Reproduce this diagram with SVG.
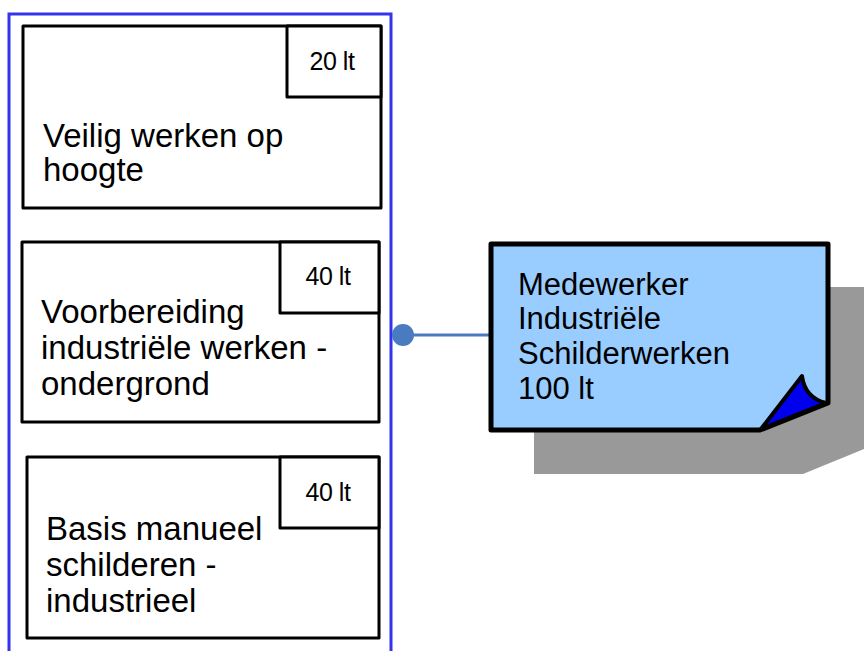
<svg xmlns="http://www.w3.org/2000/svg" width="864" height="651" viewBox="0 0 864 651">
<style>
.box{fill:#fff;stroke:#000;stroke-width:3;stroke-linejoin:round}
.t{font-family:"Liberation Sans",Arial,sans-serif;fill:#000}
.big{font-size:33px}
.small{font-size:25px;text-anchor:middle;letter-spacing:-0.5px}
.note{font-size:31px}
</style>
<rect width="864" height="651" fill="#fff"/>
<g id="container">
<path d="M9,680 L9,14 L391,14 L391,680" fill="none" stroke="#3333ee" stroke-width="3"/>
</g>
<g id="node-veilig">
<rect class="box" x="23" y="26" width="358" height="182"/>
<rect class="box" x="287" y="26" width="94" height="71"/>
<text class="t small" x="332" y="70">20 lt</text>
<text class="t big"><tspan x="43" y="147">Veilig werken op</tspan><tspan x="43" y="181">hoogte</tspan></text>
</g>
<g id="node-voorbereiding">
<rect class="box" x="22" y="242" width="357" height="180"/>
<rect class="box" x="280" y="242" width="99" height="71"/>
<text class="t small" x="328" y="285">40 lt</text>
<text class="t big"><tspan x="41" y="323">Voorbereiding</tspan><tspan x="41" y="359">industriële werken -</tspan><tspan x="41" y="395">ondergrond</tspan></text>
</g>
<g id="node-basis">
<rect class="box" x="27" y="457" width="352" height="181"/>
<rect class="box" x="280" y="457" width="99" height="71"/>
<text class="t small" x="328" y="501">40 lt</text>
<text class="t big"><tspan x="46" y="540">Basis manueel</tspan><tspan x="46" y="576">schilderen -</tspan><tspan x="46" y="612">industrieel</tspan></text>
</g>
<g id="connectors">
<line x1="403" y1="335" x2="491" y2="335" stroke="#4a7abf" stroke-width="3"/>
<circle cx="403" cy="335" r="11" fill="#4a7abf"/>
</g>
<g id="node-medewerker">
<path d="M534,287 L871,287 L871,446 L803,474 L534,474 Z" fill="#999"/>
<path d="M491,244 L828,244 L828,403 L760,430 L491,430 Z" fill="#99ccff" stroke="#000" stroke-width="5" stroke-linejoin="round"/>
<path d="M761,429 L802,376 Q805,398 826,403 Z" fill="#0000ee" stroke="#000" stroke-width="4" stroke-linejoin="round"/>
<text class="t note"><tspan x="518" y="295">Medewerker</tspan><tspan x="518" y="329">Industriële</tspan><tspan x="518" y="364">Schilderwerken</tspan><tspan x="518" y="399">100 lt</tspan></text>
</g>
</svg>
